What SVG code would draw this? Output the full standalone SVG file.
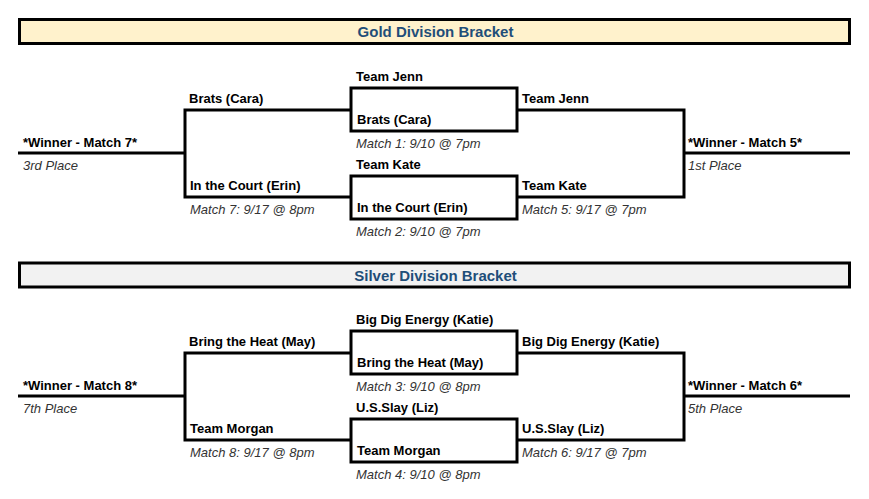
<svg xmlns="http://www.w3.org/2000/svg" width="869" height="499" viewBox="0 0 869 499">
<style>
.hdr{stroke:#000;stroke-width:3}
.gold{fill:#FFF2CC}
.silver{fill:#F2F2F2}
.title{font-family:"Liberation Sans",Arial,sans-serif;font-size:15px;font-weight:bold;fill:#1F4E79;text-anchor:middle}
.b{font-family:"Liberation Sans",Arial,sans-serif;font-size:13px;font-weight:bold;fill:#000}
.i{font-family:"Liberation Sans",Arial,sans-serif;font-size:13px;font-style:italic;fill:#333}
.ln{fill:none;stroke:#000;stroke-width:3;stroke-linejoin:miter}
.box{fill:#fff;stroke:#000;stroke-width:3}
</style>
<rect width="869" height="499" fill="#fff"/>
<g id="gold-header">
<rect class="hdr gold" x="19.5" y="19.5" width="830" height="24"/>
<text class="title" x="435.5" y="37">Gold Division Bracket</text>
</g>
<g id="silver-header">
<rect class="hdr silver" x="19.5" y="263" width="830" height="24"/>
<text class="title" x="435.5" y="280.5">Silver Division Bracket</text>
</g>
<g id="connectors">
<path class="ln" d="M351 110 H185 V197 H351"/>
<path class="ln" d="M18 153 H185"/>
<path class="ln" d="M517 110 H684 V197 H517"/>
<path class="ln" d="M684 153 H850"/>
<path class="ln" d="M351 353 H185 V440 H351"/>
<path class="ln" d="M18 396 H185"/>
<path class="ln" d="M517 353 H684 V440 H517"/>
<path class="ln" d="M684 396 H850"/>
</g>
<g id="match1">
<rect class="box" x="351" y="88" width="166" height="43"/>
<text class="b" x="356" y="81">Team Jenn</text>
<text class="b" x="357" y="124">Brats (Cara)</text>
<text class="i" x="356" y="148">Match 1: 9/10 @ 7pm</text>
</g>
<g id="match2">
<rect class="box" x="351" y="176" width="166" height="43"/>
<text class="b" x="356" y="169">Team Kate</text>
<text class="b" x="357" y="212">In the Court (Erin)</text>
<text class="i" x="356" y="236">Match 2: 9/10 @ 7pm</text>
</g>
<g id="match7">
<text class="b" x="189" y="103">Brats (Cara)</text>
<text class="b" x="190" y="190">In the Court (Erin)</text>
<text class="i" x="190" y="214">Match 7: 9/17 @ 8pm</text>
</g>
<g id="third-place">
<text class="b" x="23" y="147">*Winner - Match 7*</text>
<text class="i" x="23" y="170">3rd Place</text>
</g>
<g id="match5">
<text class="b" x="522" y="103">Team Jenn</text>
<text class="b" x="522" y="190">Team Kate</text>
<text class="i" x="522" y="214">Match 5: 9/17 @ 7pm</text>
</g>
<g id="first-place">
<text class="b" x="688" y="147">*Winner - Match 5*</text>
<text class="i" x="688" y="170">1st Place</text>
</g>
<g id="match3">
<rect class="box" x="351" y="331" width="166" height="43"/>
<text class="b" x="356" y="324">Big Dig Energy (Katie)</text>
<text class="b" x="357" y="367">Bring the Heat (May)</text>
<text class="i" x="356" y="391">Match 3: 9/10 @ 8pm</text>
</g>
<g id="match4">
<rect class="box" x="351" y="419" width="166" height="43"/>
<text class="b" x="356" y="412">U.S.Slay (Liz)</text>
<text class="b" x="357" y="455">Team Morgan</text>
<text class="i" x="356" y="479">Match 4: 9/10 @ 8pm</text>
</g>
<g id="match8">
<text class="b" x="189" y="346">Bring the Heat (May)</text>
<text class="b" x="190" y="433">Team Morgan</text>
<text class="i" x="190" y="457">Match 8: 9/17 @ 8pm</text>
</g>
<g id="seventh-place">
<text class="b" x="23" y="390">*Winner - Match 8*</text>
<text class="i" x="23" y="413">7th Place</text>
</g>
<g id="match6">
<text class="b" x="522" y="346">Big Dig Energy (Katie)</text>
<text class="b" x="522" y="433">U.S.Slay (Liz)</text>
<text class="i" x="522" y="457">Match 6: 9/17 @ 7pm</text>
</g>
<g id="fifth-place">
<text class="b" x="688" y="390">*Winner - Match 6*</text>
<text class="i" x="688" y="413">5th Place</text>
</g>
</svg>
